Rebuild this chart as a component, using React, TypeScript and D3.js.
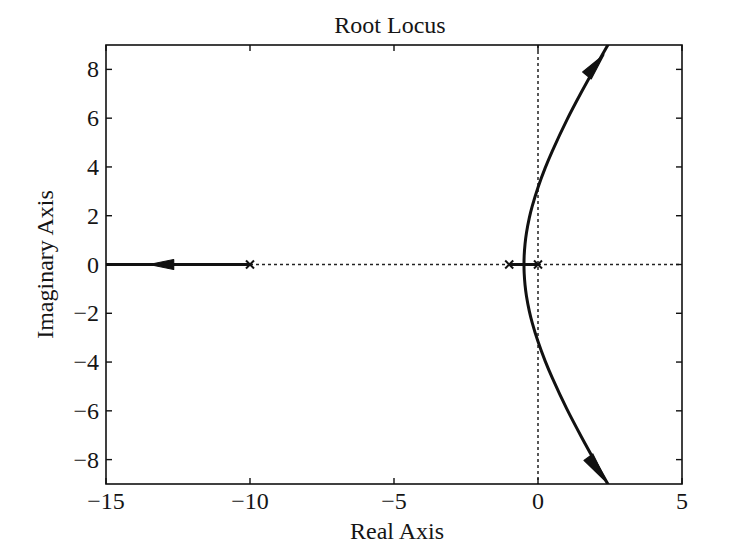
import React from "react";
import * as d3 from "d3";

// root locus: poles, upper/lower branches, real-axis branch
const poles = [-10, -1, 0];
const upperReal = [-0.487, -0.48, -0.45, -0.4, -0.3, -0.2, 0, 0.25, 0.5, 1, 1.5, 2, 2.45];
const upperImag = [0, 0.36, 0.84, 1.3, 1.92, 2.39, 3.16, 3.96, 4.66, 5.92, 7.05, 8.12, 9.05];
const lowerReal = [-0.487, -0.48, -0.45, -0.4, -0.3, -0.2, 0, 0.25, 0.5, 1, 1.5, 2, 2.45];
const lowerImag = [0, -0.36, -0.84, -1.3, -1.92, -2.39, -3.16, -3.96, -4.66, -5.92, -7.05, -8.12, -9.05];
const leftBranch = [-10, -15];
const innerBranch = [-1, 0];
const xTicks = [-15, -10, -5, 0, 5];
const yTicks = [-8, -6, -4, -2, 0, 2, 4, 6, 8];

const W = 740;
const H = 560;
const left = 106, right = 682, top = 45, bottom = 484;
const font = "'Liberation Serif', 'Times New Roman', serif";

const x = d3.scaleLinear().domain([-15, 5]).range([left, right]);
const y = d3.scaleLinear().domain([-9, 9]).range([bottom, top]);
const fmt = d3.format("d");

const line = d3.line<[number, number]>()
  .x(d => x(d[0]))
  .y(d => y(d[1]))
  .curve(d3.curveCatmullRom);

// filled arrowhead between base and tip (data coords)
const arrow = (base: [number, number], tip: [number, number], half = 5) => {
  const bx = x(base[0]), by = y(base[1]);
  const tx = x(tip[0]), ty = y(tip[1]);
  const dx = tx - bx, dy = ty - by;
  const len = Math.hypot(dx, dy);
  const nx = -dy / len * half, ny = dx / len * half;
  return `M${tx},${ty}L${bx + nx},${by + ny}L${bx - nx},${by - ny}Z`;
};

export default function App() {
  const upper = upperReal.map((r, i) => [r, upperImag[i]] as [number, number]);
  const lower = lowerReal.map((r, i) => [r, lowerImag[i]] as [number, number]);
  const tick = 6;

  return (
    <svg width={W} height={H} style={{ position: "absolute", left: 0, top: 0, background: "#fff" }}>
      <defs>
        <clipPath id="plot">
          <rect x={left} y={top} width={right - left} height={bottom - top} />
        </clipPath>
      </defs>

      {/* dotted zero lines */}
      <line x1={left} x2={right} y1={y(0)} y2={y(0)} stroke="#222" strokeWidth={1.5} strokeDasharray="3,3" />
      <line x1={x(0)} x2={x(0)} y1={top} y2={bottom} stroke="#222" strokeWidth={1.5} strokeDasharray="3,3" />

      <g clipPath="url(#plot)" fill="none" stroke="#111" strokeWidth={3}>
        <path d={line(upper) ?? ""} />
        <path d={line(lower) ?? ""} />
        <line x1={x(leftBranch[0])} x2={x(leftBranch[1])} y1={y(0)} y2={y(0)} />
        <line x1={x(innerBranch[0])} x2={x(innerBranch[1])} y1={y(0)} y2={y(0)} />
      </g>

      {/* arrowheads */}
      <g fill="#111" stroke="#111" strokeWidth={1.2} strokeLinejoin="round">
        <path d={arrow([1.7, 7.75], [2.29, 8.6], 5.5)} />
        <path d={arrow([1.75, -7.9], [2.4, -8.95], 5.5)} />
        <path d={arrow([-12.65, 0], [-13.5, 0], 5)} />
      </g>

      {/* pole markers */}
      <g stroke="#111" strokeWidth={2}>
        {poles.map(p => (
          <g key={p} transform={`translate(${x(p)},${y(0)})`}>
            <line x1={-4} y1={-4} x2={4} y2={4} />
            <line x1={-4} y1={4} x2={4} y2={-4} />
          </g>
        ))}
      </g>

      {/* frame and ticks */}
      <rect x={left} y={top} width={right - left} height={bottom - top} fill="none" stroke="#111" strokeWidth={1.6} />
      <g stroke="#111" strokeWidth={1.4}>
        {xTicks.map(t => (
          <g key={t}>
            <line x1={x(t)} x2={x(t)} y1={bottom} y2={bottom - tick} />
            <line x1={x(t)} x2={x(t)} y1={top} y2={top + tick} />
          </g>
        ))}
        {yTicks.map(t => (
          <g key={t}>
            <line x1={left} x2={left + tick} y1={y(t)} y2={y(t)} />
            <line x1={right} x2={right - tick} y1={y(t)} y2={y(t)} />
          </g>
        ))}
      </g>

      <g fontFamily={font} fontSize={24} fill="#151515">
        {xTicks.map(t => (
          <text key={t} x={x(t)} y={509} textAnchor="middle">{fmt(t)}</text>
        ))}
        {yTicks.map(t => (
          <text key={t} x={99} y={y(t) + 8} textAnchor="end">{fmt(t)}</text>
        ))}
        <text x={390} y={33} textAnchor="middle">Root Locus</text>
        <text x={397} y={539} textAnchor="middle">Real Axis</text>
        <text transform={`translate(53,${(top + bottom) / 2}) rotate(-90)`} textAnchor="middle">Imaginary Axis</text>
      </g>
    </svg>
  );
}
